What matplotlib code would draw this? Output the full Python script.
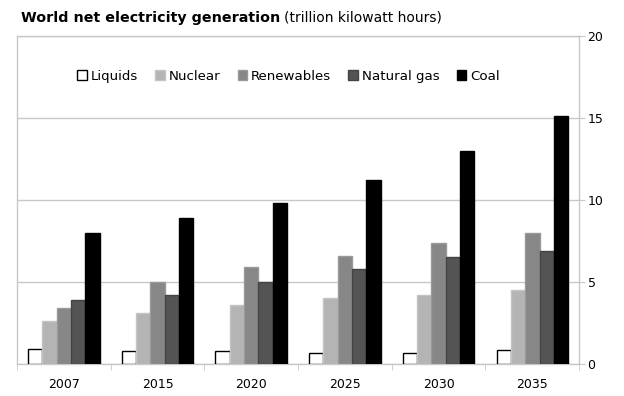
import numpy as np
from matplotlib import pyplot as plt

years = ['2007', '2015', '2020', '2025', '2030', '2035']
fuels = ['Liquids', 'Nuclear', 'Renewables', 'Natural gas', 'Coal']

liquids = [0.9, 0.8, 0.8, 0.7, 0.7, 0.85]
nuclear = [2.6, 3.1, 3.6, 4.0, 4.2, 4.5]
renewables = [3.4, 5.0, 5.9, 6.6, 7.4, 8.0]
natural_gas = [3.9, 4.2, 5.0, 5.8, 6.5, 6.9]
coal = [8.0, 8.9, 9.8, 11.2, 13.0, 15.1]

series = [liquids, nuclear, renewables, natural_gas, coal]
fills = ['white', '#b4b4b4', '#878787', '#545454', 'black']
edges = ['black', '#c4c4c4', '#9a9a9a', '#444444', 'black']

plt.rcParams['font.family'] = 'DejaVu Sans'
fig = plt.figure(figsize=(6.24, 3.96), dpi=100)
ax = fig.add_axes([0.0272, 0.0808, 0.901, 0.8283])

x = np.arange(len(years))
w = 0.153
for i, (vals, fc, ec) in enumerate(zip(series, fills, edges)):
    ax.bar(x + (i - 2) * w, vals, w, color=fc, edgecolor=ec, linewidth=1.0,
           label=fuels[i], zorder=3)

ax.set_xlim(-0.5, len(years) - 0.5)
ax.set_ylim(0, 20)
ax.set_yticks([0, 5, 10, 15, 20])
ax.yaxis.tick_right()
ax.set_xticks(x)
ax.set_xticklabels(years)
ax.set_xticks(np.arange(len(years) + 1) - 0.5, minor=True)
ax.tick_params(axis='x', which='major', length=0, pad=10, labelsize=9)
ax.tick_params(axis='x', which='minor', length=4, color='#c8c8c8')
ax.tick_params(axis='y', length=4, color='#c8c8c8', labelsize=9, pad=2)
ax.grid(axis='y', color='#c8c8c8', linewidth=1.0, zorder=0)
for s in ax.spines.values():
    s.set_color('#c8c8c8')
    s.set_linewidth(1.0)

leg = ax.legend(loc='center', bbox_to_anchor=(0.483, 0.878), ncol=5,
                frameon=False, fontsize=9.6, handlelength=0.7, handleheight=0.7,
                handletextpad=0.3, columnspacing=1.3)

t1 = fig.text(0.034, 0.955, 'World net electricity generation', fontsize=10.3,
              fontweight='bold', va='center')
fig.canvas.draw()
bb = t1.get_window_extent()
fig.text((bb.x1 + 4) / fig.bbox.width, 0.955, '(trillion kilowatt hours)',
         fontsize=10, va='center')

fig.savefig('out.png', dpi=100)
